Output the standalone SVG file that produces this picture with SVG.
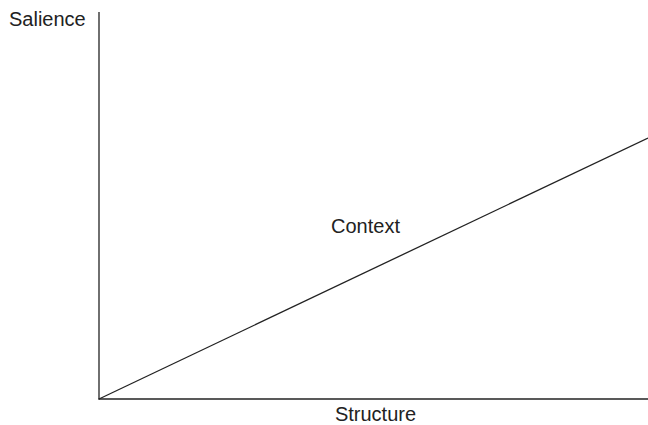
<svg xmlns="http://www.w3.org/2000/svg" width="648" height="425" viewBox="0 0 648 425">
<style>
.ax{stroke:#222;stroke-width:1.3;fill:none}
.t{font-family:"Liberation Sans",Arial,sans-serif;font-size:20px;fill:#222}
</style>
<rect width="648" height="425" fill="#fff"/>
<g id="connectors">
<line class="ax" x1="99" y1="12" x2="99" y2="399.5"/>
<line class="ax" x1="98.5" y1="399" x2="648" y2="399"/>
<line class="ax" x1="99" y1="399" x2="648" y2="138"/>
</g>
<g id="salience"><text class="t" x="9" y="26">Salience</text></g>
<g id="structure"><text class="t" x="375.5" y="421" text-anchor="middle">Structure</text></g>
<g id="context"><text class="t" x="365.5" y="233" text-anchor="middle">Context</text></g>
</svg>
